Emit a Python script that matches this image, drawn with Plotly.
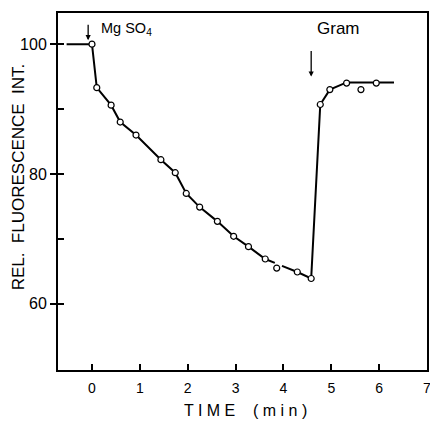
import plotly.graph_objects as go

# measured points (open circles)
time_pts = [0, 0.10, 0.40, 0.59, 0.92, 1.44, 1.74, 1.97, 2.25, 2.62, 2.96, 3.27, 3.62, 3.86, 4.29, 4.58,
            4.77, 4.97, 5.32, 5.62, 5.94]
fluor_pts = [100, 93.3, 90.6, 88.0, 86.0, 82.2, 80.2, 77.0, 74.9, 72.7, 70.4, 68.8, 66.9, 65.5, 64.9, 63.9,
             90.7, 93.0, 94.0, 93.0, 94.0]

# drawn trace line (None = pen gap)
fit_time = [-0.53, 0, 0.10, 0.40, 0.59, 0.92, 1.44, 1.74, 1.97, 2.25, 2.62, 2.96, 3.27, 3.62, 3.82, None,
            3.97, 4.29, 4.58, 4.77, 4.97, 5.32, 5.94, 6.31]
fit_value = [100, 100, 93.3, 90.6, 88.0, 86.0, 82.2, 80.2, 77.0, 74.9, 72.7, 70.4, 68.8, 66.9, 66.3, None,
             65.85, 64.9, 63.9, 90.7, 93.0, 94.1, 94.1, 94.1]

x_ticks = [0, 1, 2, 3, 4, 5, 6, 7]
y_ticks = [60, 80, 100]
y_minor = [60, 70, 80, 90, 100]

# additions (arrow tip positions)
add_labels = ["Mg SO<sub>4</sub>", "Gram"]
add_time = [-0.08, 4.58]
add_tip = [100.6, 95.0]

FONT = "Liberation Sans, Arial, sans-serif"

fig = go.Figure()
fig.add_trace(go.Scatter(x=fit_time, y=fit_value, mode="lines",
                         line=dict(color="black", width=2), connectgaps=False,
                         hoverinfo="skip", showlegend=False))
fig.add_trace(go.Scatter(x=time_pts, y=fluor_pts, mode="markers",
                         marker=dict(symbol="circle", size=6, color="white",
                                     line=dict(color="black", width=1.2)),
                         showlegend=False))

# arrows
fig.add_annotation(x=add_time[0], y=add_tip[0], ax=0, ay=-17, showarrow=True,
                   arrowhead=2, arrowsize=0.8, arrowwidth=1.3, arrowcolor="black", text="")
fig.add_annotation(x=add_time[1], y=add_tip[1], ax=0, ay=-27, showarrow=True,
                   arrowhead=2, arrowsize=0.8, arrowwidth=1.3, arrowcolor="black", text="")
# labels
fig.add_annotation(x=0.15, y=102.4, text=add_labels[0], showarrow=False, xanchor="left",
                   yanchor="middle", font=dict(family=FONT, size=14.5, color="black"))
fig.add_annotation(x=4.66, y=102.4, text=add_labels[1], showarrow=False, xanchor="left",
                   yanchor="middle", font=dict(family=FONT, size=17, color="black"))

# axis titles
fig.add_annotation(xref="paper", yref="paper", x=-0.108, y=0.54, textangle=-90,
                   xanchor="center", yanchor="middle",
                   text="REL.&nbsp;&nbsp;FLUORESCENCE&nbsp;&nbsp;INT.", showarrow=False,
                   font=dict(family=FONT, size=17, color="black"))
fig.add_annotation(xref="paper", yref="paper", x=0.508, y=-0.113, xanchor="center",
                   text="T I M E&nbsp;&nbsp;&nbsp;&nbsp;( m i n )", showarrow=False, yanchor="middle",
                   font=dict(family=FONT, size=16, color="black"))

fig.update_xaxes(range=[-0.71, 7.0], tickvals=x_ticks, ticktext=[str(v) for v in x_ticks],
                 ticks="inside", ticklen=6, tickwidth=1.5, tickcolor="black",
                 showline=True, linecolor="black", linewidth=2, mirror=True,
                 showgrid=False, zeroline=False, automargin=False, ticklabeloverflow="allow",
                 ticklabelstandoff=4,
                 tickfont=dict(family=FONT, size=14, color="black"))
fig.update_yaxes(range=[49.8, 104.8], tickvals=y_ticks, ticktext=[str(v) for v in y_ticks],
                 ticks="outside", ticklen=6, tickwidth=1.5, tickcolor="black",
                 minor=dict(tickvals=y_minor, ticks="inside", ticklen=6, tickwidth=1.5,
                            tickcolor="black", showgrid=False),
                 showline=True, linecolor="black", linewidth=2, mirror=True,
                 showgrid=False, zeroline=False, automargin=False, ticklabeloverflow="allow",
                 tickfont=dict(family=FONT, size=16, color="black"))

fig.update_layout(width=430, height=421, margin=dict(l=58, r=3, t=13, b=51),
                  plot_bgcolor="white", paper_bgcolor="white")

fig.write_html("out.html", config={"displayModeBar": False},
               post_script="document.body.style.margin='0';document.body.style.overflow='hidden';")
